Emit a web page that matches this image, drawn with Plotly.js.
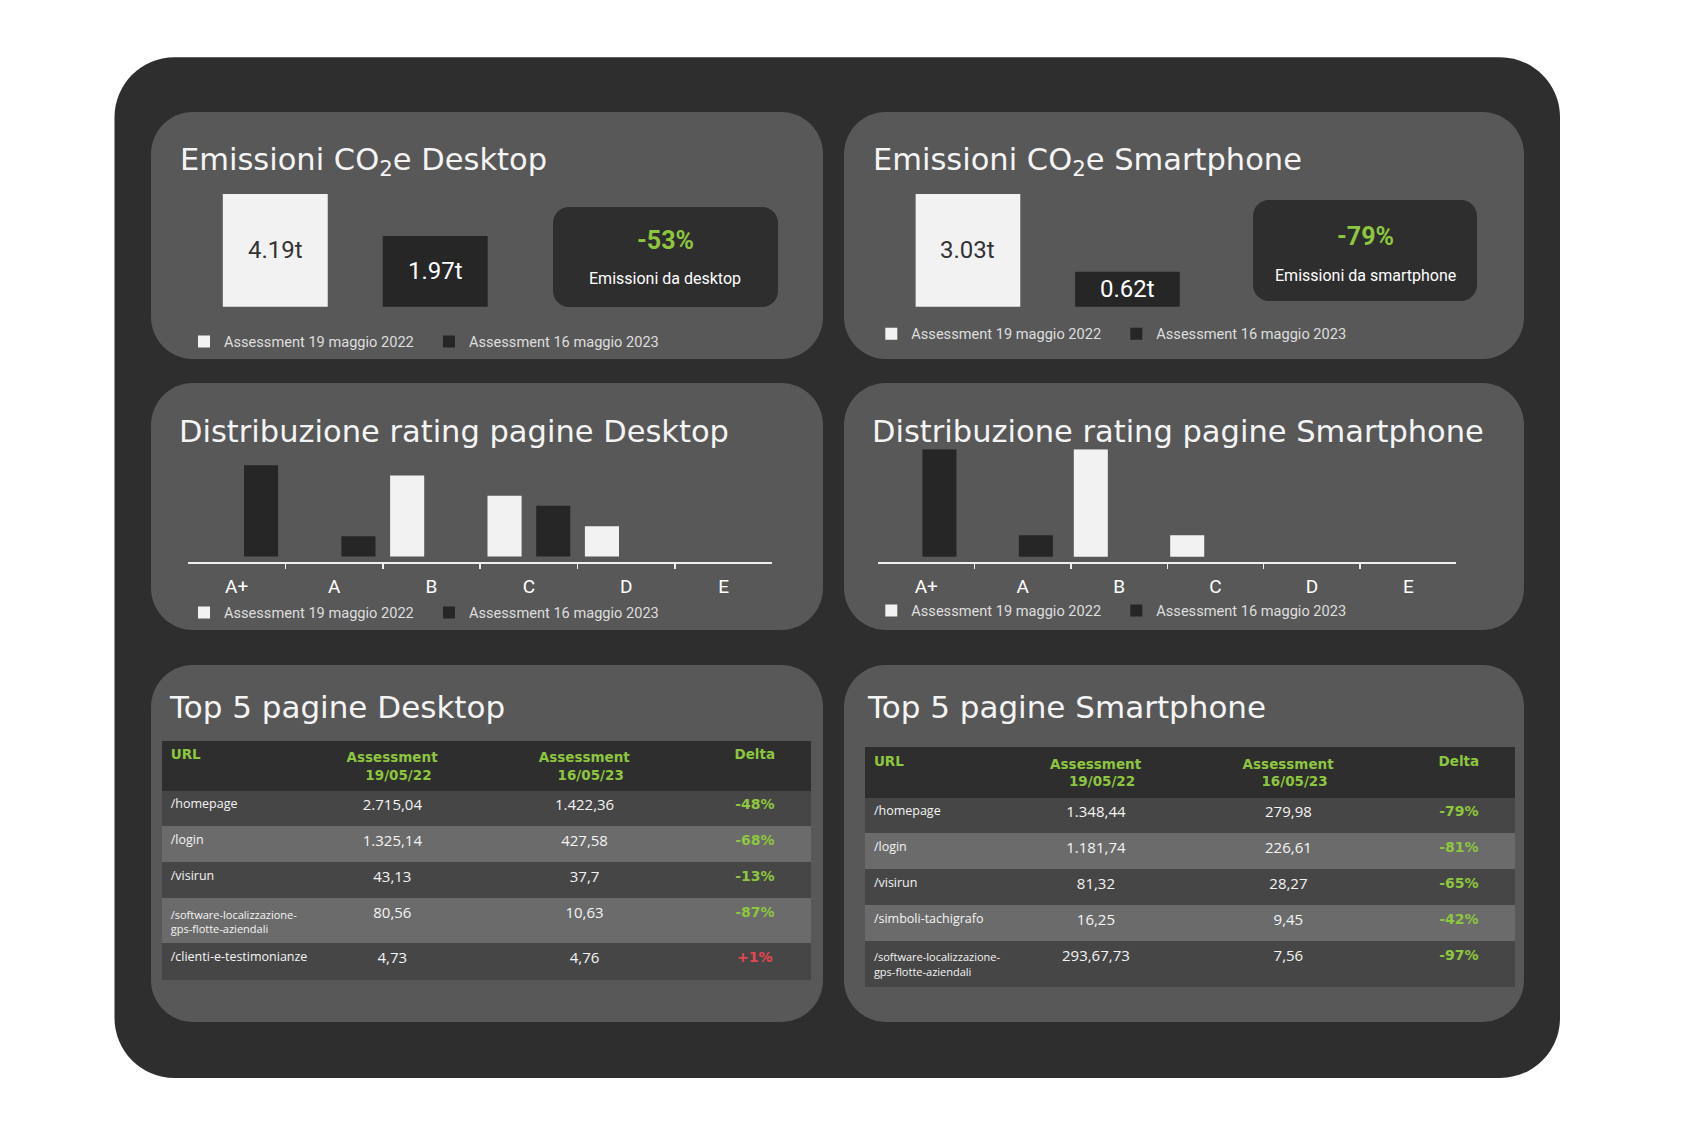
<!DOCTYPE html>
<html><head><meta charset="utf-8">
<script src="https://cdn.plot.ly/plotly-3.0.1.min.js"></script>
<style>html,body{margin:0;padding:0;background:#ffffff;} #chart{width:1694px;height:1136px;}</style>
</head><body><div id="chart"></div>
<script>
// ---------------- DATA ----------------
const seriesNames = ['Assessment 19 maggio 2022', 'Assessment 16 maggio 2023'];
const co2Desktop = [4.19, 1.97];
const co2Smartphone = [3.03, 0.62];
const kpiLabels = ['-53%', '-79%'];
const kpiCaptions = ['Emissioni da desktop', 'Emissioni da smartphone'];

const ratings = ['A+', 'A', 'B', 'C', 'D', 'E'];
const ratingDesktop2022 = [0, 0, 8, 6, 3, 0];
const ratingDesktop2023 = [9, 2, 0, 5, 0, 0];
const ratingPhone2022 = [0, 0, 5, 1, 0, 0];
const ratingPhone2023 = [5, 1, 0, 0, 0, 0];

const panelTitles = [
  'Emissioni CO<sub>2</sub>e Desktop', 'Emissioni CO<sub>2</sub>e Smartphone',
  'Distribuzione rating pagine Desktop', 'Distribuzione rating pagine Smartphone',
  'Top 5 pagine Desktop', 'Top 5 pagine Smartphone'
];

const tableHeader = ['URL', ['Assessment', '19/05/22'], ['Assessment', '16/05/23'], 'Delta'];
const deskUrls = ['/homepage', '/login', '/visirun', '/software-localizzazione-<br>gps-flotte-aziendali', '/clienti-e-testimonianze'];
const deskA2022 = ['2.715,04', '1.325,14', '43,13', '80,56', '4,73'];
const deskA2023 = ['1.422,36', '427,58', '37,7', '10,63', '4,76'];
const deskDelta = ['-48%', '-68%', '-13%', '-87%', '+1%'];
const phoneUrls = ['/homepage', '/login', '/visirun', '/simboli-tachigrafo', '/software-localizzazione-<br>gps-flotte-aziendali'];
const phoneA2022 = ['1.348,44', '1.181,74', '81,32', '16,25', '293,67,73'];
const phoneA2023 = ['279,98', '226,61', '28,27', '9,45', '7,56'];
const phoneDelta = ['-79%', '-81%', '-65%', '-42%', '-97%'];

// ---------------- STYLE / GEOMETRY ----------------
const W = 1694, H = 1136;
const X = v => v / W;
const Y = v => 1 - v / H;
const C = {
  frame: '#2e2e2e', panel: '#585858', light: '#f2f2f2', dark: '#262626',
  green: '#8dc63f', red: '#e8474f', rowA: '#464646', rowB: '#6b6b6b', head: '#2e2e2e', text: '#f4f4f4'
};
const TITLE_FONT = 'DejaVu Sans, sans-serif';
const TABLE_FONT = 'Open Sans, sans-serif';
const BODY_FONT = 'Roboto, sans-serif';
const LOG_RANGE_DESK = [-0.2569, 0.6222];
const LOG_RANGE_PHONE = [-0.5177, 0.4814];
const NBSP = '\u00a0';

function rr(x0, y0, x1, y1, r) {
  const k = 0.5523 * r;
  const p = (x, y) => X(x).toFixed(5) + ',' + Y(y).toFixed(5);
  return 'M' + p(x0 + r, y0) + ' L' + p(x1 - r, y0) +
    ' C' + p(x1 - r + k, y0) + ' ' + p(x1, y0 + r - k) + ' ' + p(x1, y0 + r) +
    ' L' + p(x1, y1 - r) +
    ' C' + p(x1, y1 - r + k) + ' ' + p(x1 - r + k, y1) + ' ' + p(x1 - r, y1) +
    ' L' + p(x0 + r, y1) +
    ' C' + p(x0 + r - k, y1) + ' ' + p(x0, y1 - r + k) + ' ' + p(x0, y1 - r) +
    ' L' + p(x0, y0 + r) +
    ' C' + p(x0, y0 + r - k) + ' ' + p(x0 + r - k, y0) + ' ' + p(x0 + r, y0) + ' Z';
}
function box(rect, r, color) {
  return {type: 'path', xref: 'paper', yref: 'paper', layer: 'below',
    path: rr(rect[0], rect[1], rect[2], rect[3], r), fillcolor: color, line: {width: 0}};
}

const shapes = [box([114.5, 57.3, 1560, 1078], 60, C.frame)];
[[151, 112, 823, 359], [844, 112, 1524, 359], [151, 383, 823, 630], [844, 383, 1524, 630],
 [151, 665, 823, 1022], [844, 665, 1524, 1022]].forEach(p => shapes.push(box(p, 42, C.panel)));
shapes.push(box([553, 207, 778, 307], 16, C.frame));
shapes.push(box([1253, 200, 1477, 301], 16, C.frame));

const annotations = [];

// ---------------- TRACES ----------------
const traces = [];
function co2Traces(vals, xa, ya, leg, logRange) {
  [0, 1].forEach(i => {
    traces.push({
      type: 'bar', x: [seriesNames[i]], y: [vals[i]], name: seriesNames[i],
      xaxis: xa, yaxis: ya, legend: leg, offsetgroup: 'g' + xa, width: [0.656],
      marker: {color: i === 0 ? C.light : C.dark, line: {width: 0}}, hoverinfo: 'skip'
    });
    // value label centred in the visible part of the bar (log-axis units, category index)
    annotations.push({
      xref: xa, yref: ya, x: i, y: (logRange[0] + Math.log10(vals[i])) / 2,
      text: vals[i].toFixed(2) + 't', showarrow: false, xanchor: 'center', yanchor: 'middle',
      font: {family: BODY_FONT, size: 24, color: i === 0 ? '#333333' : '#ffffff'}
    });
  });
}
co2Traces(co2Desktop, 'x', 'y', 'legend', LOG_RANGE_DESK);
co2Traces(co2Smartphone, 'x2', 'y2', 'legend2', LOG_RANGE_PHONE);

function ratingTraces(s22, s23, xa, ya, leg, place) {
  [s22, s23].forEach((s, i) => {
    const t = {
      type: 'bar', x: ratings, y: s, name: seriesNames[i],
      xaxis: xa, yaxis: ya, legend: leg,
      marker: {color: i === 0 ? C.light : C.dark, line: {width: 0}}, hoverinfo: 'skip'
    };
    if (place) { t.offset = place.offset[i]; t.width = place.width; }
    traces.push(t);
  });
}
ratingTraces(ratingDesktop2022, ratingDesktop2023, 'x3', 'y3', 'legend3', null);
ratingTraces(ratingPhone2022, ratingPhone2023, 'x4', 'y4', 'legend4', {offset: [-0.47, -0.04], width: 0.353});

function tableTrace(urls, a22, a23, delta, rect) {
  const n = urls.length;
  const fills = Array.from({length: n}, (_, i) => i % 2 === 0 ? C.rowA : C.rowB);
  const white = Array(n).fill(C.text);
  const deltaColors = delta.map(d => d.trim().startsWith('+') ? C.red : C.green);
  const urlSizes = urls.map(u => u.indexOf('<br>') >= 0 ? 11 : 12.5);
  // centre the shorter second header line under the first one
  const headerText = tableHeader.map(h => Array.isArray(h) ? h[0] + '<br>' + NBSP.repeat(4) + h[1] : h);
  return {
    type: 'table',
    domain: {x: [X(rect[0]), X(rect[2])], y: [Y(rect[3]), Y(rect[1])]},
    columnwidth: [152, 156, 229, 112],
    header: {
      values: headerText,
      align: ['left', 'center', 'center', 'center'],
      fill: {color: C.head}, line: {width: 1, color: C.head}, height: 46,
      font: {family: TITLE_FONT, size: 13.5, weight: 'bold', color: C.green}
    },
    cells: {
      values: [urls, a22, a23, delta],
      align: ['left', 'center', 'center', 'center'],
      fill: {color: [fills, fills, fills, fills]},
      line: {width: 1, color: [fills, fills, fills, fills]},
      height: 36,
      font: {
        family: [TABLE_FONT, TABLE_FONT, TABLE_FONT, TITLE_FONT],
        size: [urlSizes, 15, 15, 14],
        weight: ['normal', 'normal', 'normal', 'bold'],
        color: [white, white, white, deltaColors]
      }
    }
  };
}
traces.push(tableTrace(deskUrls, deskA2022, deskA2023, deskDelta, [162.7, 741, 811.3, 1010]));
traces.push(tableTrace(phoneUrls, phoneA2022, phoneA2023, phoneDelta, [865.9, 747.7, 1515.4, 1015]));

// ---------------- AXES ----------------
function hiddenCat(d0, d1, anchor) {
  return {domain: [X(d0), X(d1)], anchor: anchor, type: 'category', range: [-0.5, 1.5],
    visible: false, fixedrange: true};
}
function hiddenY(top, bottom, anchor, type, range) {
  return {domain: [Y(bottom), Y(top)], anchor: anchor, type: type, range: range,
    visible: false, fixedrange: true};
}
function ratingX(d0, d1, anchor) {
  return {domain: [X(d0), X(d1)], anchor: anchor, type: 'category', range: [-0.499, 5.499],
    tickson: 'boundaries', ticks: 'outside', ticklen: 5, tickwidth: 1.5, tickcolor: '#eeeeee',
    showline: true, linecolor: '#eeeeee', linewidth: 2, showgrid: false, zeroline: false,
    ticklabelstandoff: 6, tickfont: {family: BODY_FONT, size: 19, color: '#ffffff'}, fixedrange: true};
}
function legendAt(xpx, ypx) {
  return {orientation: 'h', x: X(xpx), y: Y(ypx), xanchor: 'left', yanchor: 'middle',
    entrywidth: 200, entrywidthmode: 'pixels', bgcolor: 'rgba(0,0,0,0)', borderwidth: 0,
    font: {family: BODY_FONT, size: 14.6, color: '#dedede'}};
}

// ---------------- TEXT ANNOTATIONS ----------------
const titlePos = [[178, 162, 30.5], [871, 162, 30.5], [177, 431, 30.5], [870, 431, 30.5], [167, 707, 31], [865, 707, 31]];
panelTitles.forEach((t, i) => {
  annotations.push({text: t, xref: 'paper', yref: 'paper', x: X(titlePos[i][0]), y: Y(titlePos[i][1]),
    xanchor: 'left', yanchor: 'middle', showarrow: false,
    font: {family: TITLE_FONT, size: titlePos[i][2], color: C.text}});
});
const kpiPos = [[665.4, 241, 278], [1365, 236, 275]];
kpiLabels.forEach((k, i) => {
  annotations.push({text: '<b>' + k + '</b>', xref: 'paper', yref: 'paper', x: X(kpiPos[i][0]), y: Y(kpiPos[i][1]),
    xanchor: 'center', yanchor: 'middle', showarrow: false,
    font: {family: BODY_FONT, size: 25, color: C.green}});
  annotations.push({text: kpiCaptions[i], xref: 'paper', yref: 'paper', x: X(kpiPos[i][0]), y: Y(kpiPos[i][2]),
    xanchor: 'center', yanchor: 'middle', showarrow: false,
    font: {family: BODY_FONT, size: 16, color: '#ffffff'}});
});

const layout = {
  width: W, height: H, margin: {l: 0, r: 0, t: 0, b: 0},
  paper_bgcolor: '#ffffff', plot_bgcolor: 'rgba(0,0,0,0)',
  barmode: 'group', bargap: 0, bargroupgap: 0.3,
  showlegend: true,
  xaxis: hiddenCat(195.3, 515.2, 'y'),
  yaxis: hiddenY(194, 306.7, 'x', 'log', LOG_RANGE_DESK),
  xaxis2: hiddenCat(888.2, 1207.2, 'y2'),
  yaxis2: hiddenY(194, 306.7, 'x2', 'log', LOG_RANGE_PHONE),
  xaxis3: ratingX(188.1, 772.3, 'y3'),
  yaxis3: hiddenY(463.2, 561.7, 'x3', 'linear', [-0.5, 9.2]),
  xaxis4: ratingX(878.2, 1456.4, 'y4'),
  yaxis4: hiddenY(449.2, 561.7, 'x4', 'linear', [-0.233, 5]),
  legend: legendAt(184, 341.4),
  legend2: legendAt(871.3, 333.8),
  legend3: legendAt(184, 612.6),
  legend4: legendAt(871.3, 610.4),
  shapes: shapes,
  annotations: annotations
};

Plotly.newPlot('chart', traces, layout, {staticPlot: true, displayModeBar: false});
</script></body></html>
